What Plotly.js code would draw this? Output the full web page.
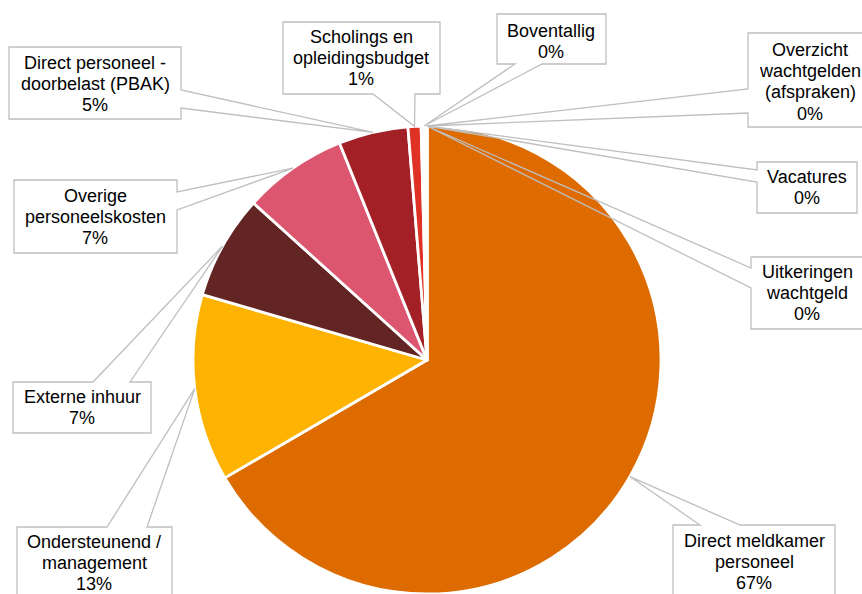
<!DOCTYPE html>
<html>
<head>
<meta charset="utf-8">
<script src="https://cdn.plot.ly/plotly-3.0.1.min.js"></script>
<style>html,body{margin:0;padding:0;background:#fff;}#chart{width:862px;height:594px;}</style>
</head>
<body>
<div id="chart"></div>
<script>
// ---- data ----
const categories = [
  "Direct meldkamer personeel",
  "Ondersteunend / management",
  "Externe inhuur",
  "Overige personeelskosten",
  "Direct personeel - doorbelast (PBAK)",
  "Scholings en opleidingsbudget",
  "Boventallig",
  "Overzicht wachtgelden (afspraken)",
  "Vacatures",
  "Uitkeringen wachtgeld"
];
const values = [66.6, 12.9, 7.2, 7.2, 4.8, 0.9, 0.4, 0, 0, 0];
const labelLines = [
  ["Direct meldkamer", "personeel"],
  ["Ondersteunend /", "management"],
  ["Externe inhuur"],
  ["Overige", "personeelskosten"],
  ["Direct personeel -", "doorbelast (PBAK)"],
  ["Scholings en", "opleidingsbudget"],
  ["Boventallig"],
  ["Overzicht", "wachtgelden", "(afspraken)"],
  ["Vacatures"],
  ["Uitkeringen", "wachtgeld"]
];
const colors = ["#DD6B00", "#FDB300", "#632523", "#DB566E", "#A32126", "#E03224", "#FFFFFF", "#FFFFFF", "#FFFFFF", "#FFFFFF"];

// ---- layout of callouts (pixel positions of label boxes) ----
const W = 862, H = 594;
const CX = 427, CY = 360, R = 234;
const callouts = [
  {box:[673,525,835,602], edge:"top",    base:[700,740], tx:754, ty:541},
  {box:[17,527,172,602],  edge:"top",    base:[107,147], tx:94,  ty:542},
  {box:[13,382,151,433],  edge:"top",    base:[93,130],  tx:82,  ty:397},
  {box:[14,180,177,253],  edge:"right",  base:[192,210], tx:95,  ty:196},
  {box:[9,47,181,119],    edge:"right",  base:[90,108],  tx:95,  ty:63},
  {box:[283,22,440,94],   edge:"bottom", base:[373,415], tx:361, ty:37},
  {box:[497,14,606,64],   edge:"bottom", base:[515,542], tx:551, ty:31},
  {box:[748,33,872,127],  edge:"left",   base:[89,113],  tx:810, ty:50},
  {box:[757,162,857,213], edge:"left",   base:[170,182], tx:807, ty:177},
  {box:[751,257,863,329], edge:"left",   base:[268,288], tx:807, ty:272}
];
const LINE = 21.2;

const total = values.reduce((a,b)=>a+b,0);
const P = (x,y) => (x/W).toFixed(5) + "," + (1 - y/H).toFixed(5);

const shapes = [];
const annotations = [];
let cum = 0;
values.forEach((v,i) => {
  const mid = (cum + v/2) / total * 2 * Math.PI;
  cum += v;
  const tip = [CX + R*Math.sin(mid), CY - R*Math.cos(mid)];
  const c = callouts[i];
  const [l,t,r,b] = c.box;
  const pts = [[l,t]];
  if (c.edge === "top") pts.push([c.base[0],t], tip, [c.base[1],t]);
  pts.push([r,t]);
  if (c.edge === "right") pts.push([r,c.base[0]], tip, [r,c.base[1]]);
  pts.push([r,b]);
  if (c.edge === "bottom") pts.push([c.base[1],b], tip, [c.base[0],b]);
  pts.push([l,b]);
  if (c.edge === "left") pts.push([l,c.base[1]], tip, [l,c.base[0]]);
  shapes.push({
    type:"path", xref:"paper", yref:"paper", layer:"above",
    path: "M" + pts.map(p => P(p[0],p[1])).join("L") + "Z",
    line:{color:"#BFBFBF", width:1.3}, fillcolor:"rgba(255,255,255,0)"
  });
  const lines = labelLines[i].concat([Math.round(v/total*100) + "%"]);
  lines.forEach((txt,k) => {
    annotations.push({
      xref:"paper", yref:"paper", x:c.tx/W, y:1-(c.ty + k*LINE)/H,
      xanchor:"center", yanchor:"middle", showarrow:false, text:txt,
      font:{family:"Liberation Sans, Arial, sans-serif", size:18, color:"#000000"}
    });
  });
});

const trace = {
  type:"pie",
  labels: categories,
  values: values,
  sort:false,
  direction:"clockwise",
  rotation:0,
  textinfo:"none",
  hoverinfo:"label+percent",
  marker:{colors:colors, line:{color:"#FFFFFF", width:2.8}},
  domain:{x:[(CX-R)/W, (CX+R)/W], y:[0, 2*R/H]},
  showlegend:false
};

Plotly.newPlot("chart", [trace], {
  width:W, height:H,
  margin:{l:0,r:0,t:0,b:0},
  paper_bgcolor:"#FFFFFF",
  showlegend:false,
  shapes:shapes,
  annotations:annotations
}, {staticPlot:true});
</script>
</body>
</html>
